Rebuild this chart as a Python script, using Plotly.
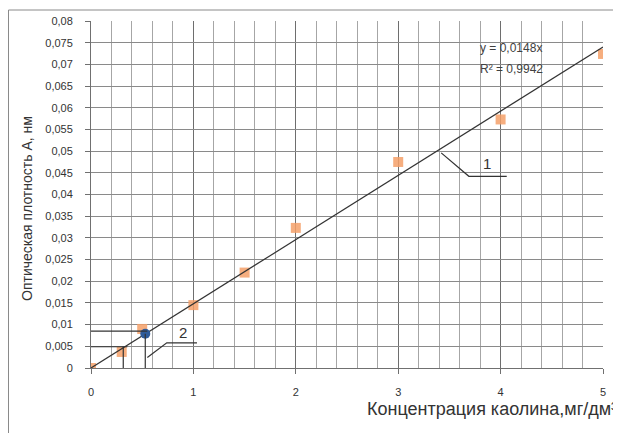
import plotly.graph_objects as go

# ---- data ----
conc = [0, 0.3, 0.5, 1, 1.5, 2, 3, 4, 5]
absorb = [0, 0.0037, 0.009, 0.0145, 0.022, 0.0323, 0.0475, 0.0573, 0.0724]
sample_x = [0.53]
sample_y = [0.0079]
trend_slope = 0.0148
trend_r2 = "0,9942"
x_ticks = [0, 1, 2, 3, 4, 5]
x_ticklabels = ["0", "1", "2", "3", "4", "5"]
y_ticks = [0, 0.005, 0.01, 0.015, 0.02, 0.025, 0.03, 0.035, 0.04,
           0.045, 0.05, 0.055, 0.06, 0.065, 0.07, 0.075, 0.08]
y_ticklabels = ["0", "0,005", "0,01", "0,015", "0,02", "0,025", "0,03", "0,035", "0,04",
                "0,045", "0,05", "0,055", "0,06", "0,065", "0,07", "0,075", "0,08"]
x_title = "Концентрация каолина,мг/дм³"
y_title = "Оптическая плотность А, нм"

# ---- figure geometry (page body has an 8px margin) ----
OFF = 8
W, H = 613, 425
ML, MT = 91 - OFF, 21 - OFF
PW, PH = 512, 347
MR = W - ML - PW
MB = H - MT - PH


def px_to_paper(sx, sy):
    fx, fy = sx - OFF, sy - OFF
    return (fx - ML) / PW, (H - MB - fy) / PH


fig = go.Figure()

fig.add_trace(go.Scatter(
    x=conc, y=absorb, mode="markers",
    marker=dict(symbol="square", size=10, color="rgba(245,160,105,0.85)",
                line=dict(width=0)),
    showlegend=False, hoverinfo="skip"))

trend_x = [min(conc), max(conc)]
trend_y = [trend_slope * v for v in trend_x]
fig.add_trace(go.Scatter(
    x=trend_x, y=trend_y, mode="lines",
    line=dict(color="#333333", width=1.2),
    showlegend=False, hoverinfo="skip"))

fig.add_trace(go.Scatter(
    x=sample_x, y=sample_y, mode="markers",
    marker=dict(symbol="circle", size=10, color="#2F5C9A", line=dict(width=0)),
    showlegend=False, hoverinfo="skip"))

line_style = dict(color="#333333", width=1.2)
shapes = []
# reading lines for the sample point and the lower reading
shapes.append(dict(type="line", xref="x", yref="y", x0=0, x1=0.55, y0=0.0085, y1=0.0085, line=line_style))
shapes.append(dict(type="line", xref="x", yref="y", x0=sample_x[0], x1=sample_x[0], y0=0, y1=sample_y[0], line=line_style))
shapes.append(dict(type="line", xref="x", yref="y", x0=0, x1=0.355, y0=0.0049, y1=0.0049, line=line_style))
shapes.append(dict(type="line", xref="x", yref="y", x0=0.315, x1=0.315, y0=0, y1=0.0049, line=line_style))
# leader "2"
shapes.append(dict(type="path", xref="x", yref="y",
                   path="M 0.55 0.0024 L 0.74 0.0058 L 1.035 0.0058", line=line_style))
# leader "1"
shapes.append(dict(type="path", xref="x", yref="y",
                   path="M 3.42 0.0496 L 3.69 0.0442 L 4.06 0.0442", line=line_style))
# outer chart border
bx0, by0 = px_to_paper(8.5, 10)
bx1, by1 = px_to_paper(660, 470)
shapes.append(dict(type="rect", xref="paper", yref="paper", x0=bx0, x1=bx1, y0=by1, y1=by0,
                   line=dict(color="#8a8a8a", width=1), fillcolor="rgba(0,0,0,0)", layer="below"))

annotations = []
annotations.append(dict(xref="x", yref="y", x=0.9, y=0.0083, text="2", showarrow=False,
                        font=dict(family="Liberation Sans", size=15, color="#333333")))
annotations.append(dict(xref="x", yref="y", x=3.87, y=0.0472, text="1", showarrow=False,
                        font=dict(family="Liberation Sans", size=15, color="#333333")))
ex, ey = px_to_paper(478, 48)
annotations.append(dict(xref="paper", yref="paper", x=ex, y=ey, xanchor="left", yanchor="middle",
                        text="y = " + f"{trend_slope:.4f}".replace(".", ",") + "x", showarrow=False,
                        font=dict(family="Liberation Sans", size=12, color="#404040")))
rx, ry = px_to_paper(478, 69)
annotations.append(dict(xref="paper", yref="paper", x=rx, y=ry, xanchor="left", yanchor="middle",
                        text="R² = " + trend_r2, showarrow=False,
                        font=dict(family="Liberation Sans", size=12, color="#404040")))
tx, ty = px_to_paper(619, 409)
annotations.append(dict(xref="paper", yref="paper", x=tx, y=ty, xanchor="right", yanchor="middle",
                        text=x_title, showarrow=False,
                        font=dict(family="Liberation Sans", size=18, color="#333333")))
yx, yy = px_to_paper(27, 209)
annotations.append(dict(xref="paper", yref="paper", x=yx, y=yy, xanchor="center", yanchor="middle",
                        text=y_title, showarrow=False, textangle=-90,
                        font=dict(family="Liberation Sans", size=14, color="#333333")))

fig.update_layout(
    width=W, height=H,
    margin=dict(l=ML, r=MR, t=MT, b=MB, pad=0, autoexpand=False),
    paper_bgcolor="white", plot_bgcolor="white",
    separators=", ",
    shapes=shapes, annotations=annotations,
    xaxis=dict(range=[0, 5], tickmode="array", tickvals=x_ticks, ticktext=x_ticklabels,
               automargin=False,
               showgrid=True, gridcolor="#6e6e6e", gridwidth=1,
               minor=dict(tickmode="linear", tick0=0, dtick=0.2, showgrid=True,
                          gridcolor="#a6a6a6", gridwidth=1, ticks=""),
               showline=True, linecolor="#707070", linewidth=1,
               ticks="outside", ticklen=5, tickcolor="#707070",
               ticklabelstandoff=9, zeroline=False,
               tickfont=dict(family="Liberation Sans", size=11, color="#333333")),
    yaxis=dict(range=[0, 0.08], tickmode="array", tickvals=y_ticks, ticktext=y_ticklabels,
               automargin=False,
               showgrid=True, gridcolor="#8a8a8a", gridwidth=1,
               showline=True, linecolor="#707070", linewidth=1,
               ticks="outside", ticklen=5, tickcolor="#707070",
               ticklabelstandoff=10, zeroline=False,
               tickfont=dict(family="Liberation Sans", size=11, color="#333333")),
)

fig.write_html("out.html")
